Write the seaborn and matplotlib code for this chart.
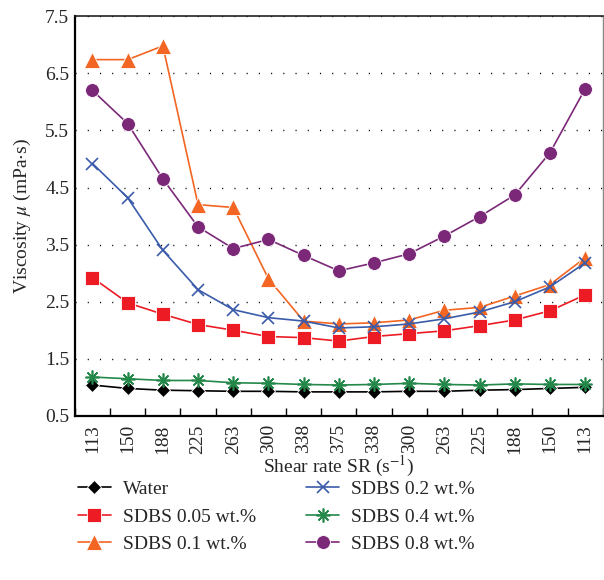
import numpy as np
import matplotlib
matplotlib.use("Agg")
import matplotlib.pyplot as plt
import seaborn as sns

# shear rate sweep up and down (s^-1)
shear_rates = ["113", "150", "188", "225", "263", "300", "338", "375",
               "338", "300", "263", "225", "188", "150", "113"]

water = [1.04, 0.98, 0.95, 0.94, 0.93, 0.93, 0.92, 0.92, 0.92, 0.93, 0.93, 0.95, 0.96, 0.98, 1.00]
sdbs_005 = [2.92, 2.48, 2.28, 2.10, 2.00, 1.89, 1.87, 1.81, 1.89, 1.94, 1.99, 2.08, 2.18, 2.34, 2.62]
sdbs_01 = [6.74, 6.74, 6.98, 4.20, 4.15, 2.90, 2.16, 2.11, 2.13, 2.18, 2.35, 2.40, 2.60, 2.80, 3.27]
sdbs_02 = [4.92, 4.32, 3.40, 2.71, 2.36, 2.22, 2.16, 2.04, 2.06, 2.11, 2.20, 2.32, 2.50, 2.76, 3.18]
sdbs_04 = [1.18, 1.15, 1.12, 1.12, 1.08, 1.07, 1.05, 1.04, 1.05, 1.07, 1.05, 1.04, 1.06, 1.05, 1.05]
sdbs_08 = [6.20, 5.62, 4.65, 3.81, 3.43, 3.59, 3.31, 3.04, 3.18, 3.34, 3.65, 3.99, 4.37, 5.11, 6.23]

series = [
    ("Water", water, "black", "D", 7),
    ("SDBS 0.05 wt.%", sdbs_005, "#ED1C24", "s", 10),
    ("SDBS 0.1 wt.%", sdbs_01, "#F26522", "^", 11),
    ("SDBS 0.2 wt.%", sdbs_02, "#3A5BA9", "x", 9),
    ("SDBS 0.4 wt.%", sdbs_04, "#23884A", (8, 2, 0), 10),
    ("SDBS 0.8 wt.%", sdbs_08, "#7B2878", "o", 10),
]

sns.set_style("white")
plt.rcParams["font.family"] = ["Liberation Serif", "DejaVu Serif"]
plt.rcParams["mathtext.fontset"] = "stix"

fig = plt.figure(figsize=(6.04, 5.8), dpi=100)
ax = fig.add_axes([0.124, 0.283, 0.874, 0.689])

pos = np.arange(len(shear_rates))
for name, vals, col, mk, ms in series:
    filled = mk in ("D", "s", "^", "o")
    sns.lineplot(x=pos, y=vals, ax=ax, color=col, marker=mk, markersize=ms,
                 linewidth=1.2, label=name,
                 markeredgecolor="white" if filled else col,
                 markeredgewidth=0.6 if filled else 1.2)

ax.set_xlim(-0.5, len(shear_rates) - 0.5)
ax.set_ylim(0.5, 7.5)
ax.set_yticks(np.arange(0.5, 7.6, 1.0))
ax.set_yticklabels([f"{v:.1f}" for v in np.arange(0.5, 7.6, 1.0)])
ax.set_xticks(pos)
ax.set_xticklabels(shear_rates, rotation=90)
ax.set_xticks(np.arange(-0.5, len(shear_rates)), minor=True)
ax.tick_params(axis="x", which="major", length=0, labelsize=14, pad=6)
ax.tick_params(axis="x", which="minor", direction="in", length=6, width=1, color="black", bottom=True)
ax.tick_params(axis="y", length=0, labelsize=14, pad=4)

ax.yaxis.grid(True, linestyle=(0, (0.8, 8)), color="black", linewidth=1.0)
ax.xaxis.grid(False)

for side in ["left", "bottom"]:
    ax.spines[side].set_color("black")
    ax.spines[side].set_linewidth(1.6)
ax.spines["top"].set_color("#222222")
ax.spines["top"].set_linewidth(1.2)
ax.spines["right"].set_color("#888888")
ax.spines["right"].set_linewidth(1.0)

ax.set_xlabel(r"Shear rate SR (s$^{-1}$)", fontsize=14, labelpad=0)
ax.set_ylabel(r"Viscosity $\mu$ (mPa$\cdot$s)", fontsize=14, labelpad=9)

handles, labels = ax.get_legend_handles_labels()
ax.legend(handles, labels, ncol=2, loc="upper left", bbox_to_anchor=(-0.02, -0.128),
          frameon=False, fontsize=14, handlelength=1.7, columnspacing=2.6,
          labelspacing=0.5, handletextpad=0.6, borderaxespad=0.3)

plt.savefig("out.png", dpi=100)
